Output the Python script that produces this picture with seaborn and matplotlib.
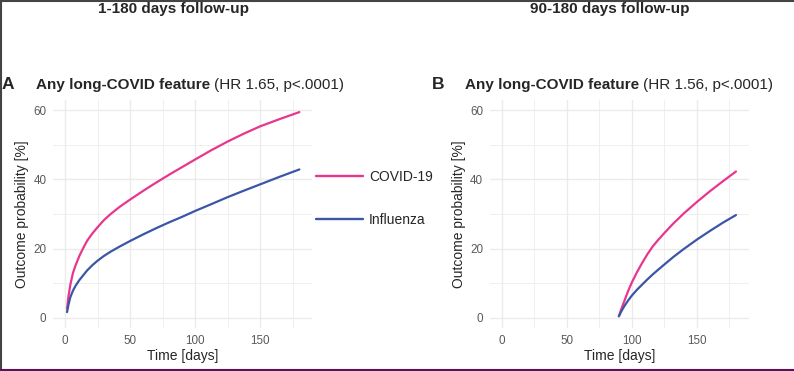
import matplotlib
matplotlib.use('Agg')
import matplotlib.pyplot as plt
import pandas as pd
import seaborn as sns
from matplotlib.lines import Line2D

# groups and colours
groups = ['COVID-19', 'Influenza']
palette = {'COVID-19': '#E8368F', 'Influenza': '#3A56A5'}

# panel A: 1-180 days follow-up
days_a = [1.5, 2.5, 4, 6, 8, 11, 14, 17, 21, 25, 30, 35, 42, 50, 60, 70, 80, 90, 100,
          112, 125, 137, 150, 165, 180]
covid_a = [2.6, 6, 9.5, 12.9, 15.1, 17.9, 20.2, 22.3, 24.4, 26.2, 28.3, 30.0, 32.1, 34.2, 36.7,
           39.1, 41.4, 43.6, 45.8, 48.4, 51.0, 53.2, 55.4, 57.5, 59.5]
flu_a = [1.6, 3.6, 5.9, 7.8, 9.2, 10.9, 12.3, 13.7, 15.2, 16.5, 17.9, 19.1, 20.6, 22.2, 24.1,
         25.9, 27.6, 29.2, 30.9, 32.8, 34.9, 36.7, 38.6, 40.8, 42.9]

# panel B: 90-180 days follow-up
days_b = [90, 92, 94, 97, 100, 104, 108, 112, 116, 120, 125, 132, 140, 150, 160, 170, 180]
covid_b = [0.4, 2.6, 4.6, 7.6, 10.2, 13.2, 15.9, 18.4, 20.6, 22.4, 24.5, 27.3, 30.2, 33.5, 36.6,
           39.5, 42.3]
flu_b = [0.4, 1.9, 3.2, 4.9, 6.4, 8.1, 9.6, 11.1, 12.5, 13.8, 15.4, 17.6, 19.9, 22.6, 25.1, 27.5, 29.7]

panel_titles = ['1-180 days follow-up', '90-180 days follow-up']
panel_letters = ['A', 'B']
panel_hr = ['(HR 1.65, p<.0001)', '(HR 1.56, p<.0001)']
x_ticks = [0, 50, 100, 150]
y_ticks = [0, 20, 40, 60]


def long_df(days, covid, flu):
    return pd.concat([
        pd.DataFrame({'day': days, 'prob': covid, 'group': 'COVID-19'}),
        pd.DataFrame({'day': days, 'prob': flu, 'group': 'Influenza'}),
    ])


sns.set_theme(style='white')
plt.rcParams['font.family'] = ['Liberation Sans', 'DejaVu Sans']

W, H = 794, 371
fig = plt.figure(figsize=(W / 100, H / 100), dpi=100)
fig.patch.set_facecolor('white')

frames = [long_df(days_a, covid_a, flu_a), long_df(days_b, covid_b, flu_b)]
lefts = [53.4, 490]

for i, df in enumerate(frames):
    ax = fig.add_axes([lefts[i] / W, (H - 328) / H, 259 / W, 228 / H])
    sns.lineplot(data=df, x='day', y='prob', hue='group', hue_order=groups, palette=palette,
                 ax=ax, legend=False, linewidth=1.6, errorbar=None)
    ax.set_xlim(-9, 190)
    ax.set_ylim(-3, 63)
    ax.set_xticks(x_ticks)
    ax.set_yticks(y_ticks)
    ax.set_xticks([25, 75, 125, 175], minor=True)
    ax.set_yticks([10, 30, 50], minor=True)
    ax.grid(which='major', color='#EBEBEB', linewidth=1.0)
    ax.grid(which='minor', color='#EFEFEF', linewidth=0.7)
    ax.set_axisbelow(True)
    for s in ax.spines.values():
        s.set_visible(False)
    ax.tick_params(which='both', length=0, labelsize=8.4, labelcolor='#5A5A5A', pad=5)
    ax.set_xlabel('Time [days]', fontsize=10, labelpad=1.5)
    ax.set_ylabel('Outcome probability [%]', fontsize=10, labelpad=3)

# top titles
fig.text(174 / W, 1 - 12.5 / H, panel_titles[0], ha='center', va='baseline', fontsize=11, weight='bold')
fig.text(610 / W, 1 - 12.5 / H, panel_titles[1], ha='center', va='baseline', fontsize=11, weight='bold')

# panel titles: letter, bold part, regular part
letter_x = [2, 432]
title_x = [36, 465]
fig.canvas.draw()
renderer = fig.canvas.get_renderer()
for i in range(2):
    fig.text(letter_x[i] / W, 1 - 89.3 / H, panel_letters[i], ha='left', va='baseline',
             fontsize=12.5, weight='bold')
    t = fig.text(title_x[i] / W, 1 - 89.3 / H, 'Any long-COVID feature', ha='left', va='baseline',
                 fontsize=11, weight='bold')
    bb = t.get_window_extent(renderer)
    fig.text((bb.x1 + 3.5) / W, 1 - 89.3 / H, panel_hr[i], ha='left', va='baseline', fontsize=11)

# shared legend between the panels
handles = [Line2D([], [], color=palette[g], linewidth=1.7) for g in groups]
fig.legend(handles, groups, loc='upper left', bbox_to_anchor=(316 / W, 1 - 170 / H),
           frameon=False, fontsize=10, handlelength=3.4, handletextpad=0.4,
           labelspacing=2.1, borderpad=0, borderaxespad=0)

# frame lines of the original image
fig.add_artist(Line2D([0, 1], [1 - 1 / H, 1 - 1 / H], transform=fig.transFigure, color='#444444', linewidth=1.5))
fig.add_artist(Line2D([1 / W, 1 / W], [0, 1], transform=fig.transFigure, color='#444444', linewidth=1.5))
fig.add_artist(Line2D([0, 1], [1.2 / H, 1.2 / H], transform=fig.transFigure, color='#5C0F5C', linewidth=1.5))

fig.savefig('out.png', dpi=100)
